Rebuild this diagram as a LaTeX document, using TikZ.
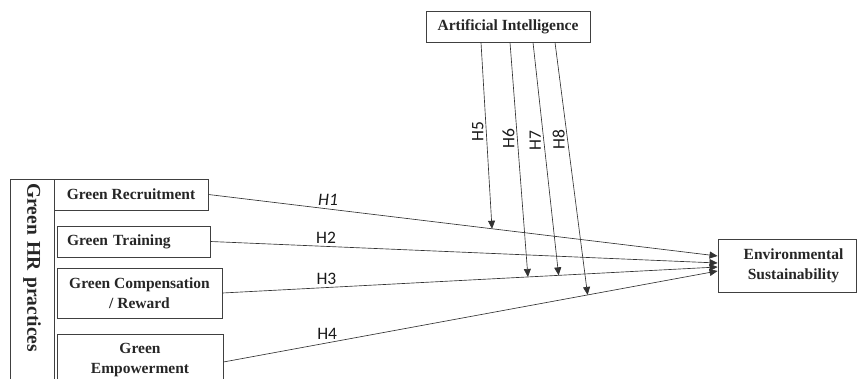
\documentclass[tikz,border=0pt]{standalone}
\usepackage{fontspec}
\setmainfont{Liberation Serif}
\newfontfamily\hfont{Carlito}
\usetikzlibrary{arrows.meta}
\begin{document}
\begin{tikzpicture}[x=1pt,y=-1pt,
  box/.style={rectangle,draw=black!75,line width=0.9pt,text=black!85,align=center,inner sep=0pt,
    font=\fontsize{15.5}{20}\selectfont\bfseries},
  hyp/.style={draw=black!80,line width=0.65pt,-{Triangle[length=8pt,width=7pt]}},
  hlab/.style={text=black!90,inner sep=0pt,font=\hfont\fontsize{17.5}{20}\selectfont},
  vlab/.style={hlab,rotate=90,anchor=south,inner sep=2.5pt}]
\useasboundingbox (0,0) rectangle (858,379);
%
\node at (32,179) [box,rotate=-90,anchor=west,minimum height=44pt,text width=205pt,inner xsep=4pt,align=left,
  font=\fontsize{19.5}{22}\selectfont\bfseries] (hrp) {Green HR practices};
\node at (131,194.5) [box,minimum width=154pt,minimum height=31pt] (rec) {Green Recruitment};
\node at (133.5,241.5) [box,text width=133pt,inner xsep=10pt,align=left,minimum height=31pt] (trn) {Green Training};
\node at (139.5,293) [box,minimum width=165pt,minimum height=50pt] (cmp) {Green Compensation\\/ Reward};
\node at (140,360) [box,minimum width=166pt,minimum height=52pt] (emp) {Green\\Empowerment};
%
\node at (508,26.5) [box,minimum width=164pt,minimum height=31pt] (ai) {Artificial Intelligence};
\node at (787,265.5) [box,minimum width=138pt,minimum height=53pt] (env) {\hspace*{13pt}Environmental\\\hspace*{13pt}Sustainability};
%
\draw[hyp] (rec.east) -- node[pos=0.235,above=3pt,hlab,font=\hfont\fontsize{17.5}{20}\selectfont\itshape] {H1}
  coordinate[pos=0.557] (m5) ([yshift=9.5pt]env.west);
\draw[hyp] (trn.east) -- node[pos=0.228,above=3pt,hlab] {H2} ([yshift=2.5pt]env.west);
\draw[hyp] (cmp.east) -- node[pos=0.21,above=3pt,hlab] {H3}
  coordinate[pos=0.617] (m6) coordinate[pos=0.679] (m7) ([yshift=-1.5pt]env.west);
\draw[hyp] ([yshift=-2pt]emp.east) -- node[pos=0.21,above=3pt,hlab] {H4}
  coordinate[pos=0.737] (m8) ([yshift=-5.5pt]env.west);
%
\draw[hyp] ([xshift=-27pt]ai.south) -- node[pos=0.48,vlab] {H5} (m5);
\draw[hyp] ([xshift=2pt]ai.south) -- node[pos=0.408,vlab] {H6} (m6);
\draw[hyp] ([xshift=25pt]ai.south) -- node[pos=0.42,vlab] {H7} (m7);
\draw[hyp] ([xshift=47pt]ai.south) -- node[pos=0.383,vlab] {H8} (m8);
\end{tikzpicture}
\end{document}
